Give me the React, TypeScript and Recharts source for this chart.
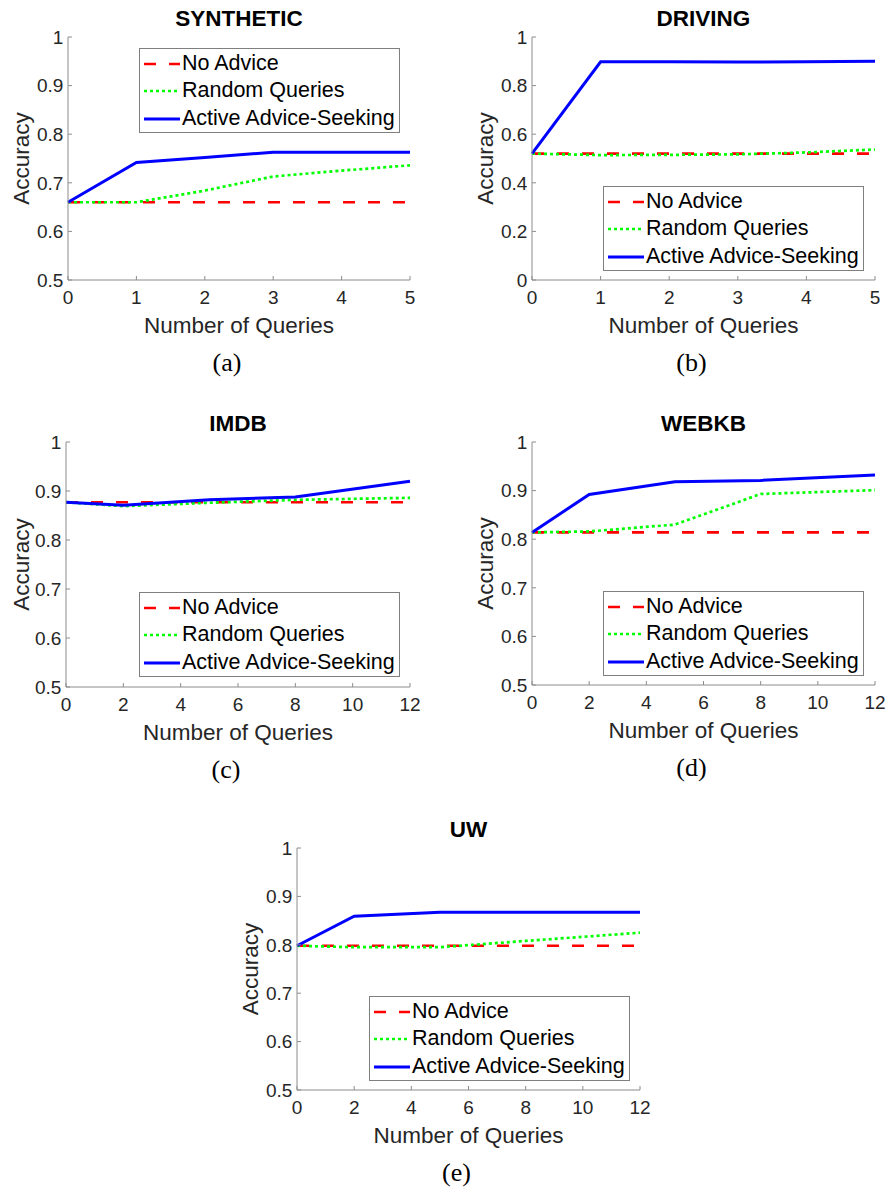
import { LineChart, Line, XAxis, YAxis, Legend, Label } from "recharts";

const FONT = "'Liberation Sans', Arial, Helvetica, sans-serif";
const SERIF = "'Liberation Serif', 'DejaVu Serif', serif";
const AXIS_GREY = "#8c8c8c";
const TEXT_DARK = "#262626";

// number of queries (x) and accuracy of each method, per dataset
const synthQueries = [0, 1, 2, 3, 4, 5];
const synthNoAdvice = [0.66, 0.66, 0.66, 0.66, 0.66, 0.66];
const synthRandom = [0.66, 0.66, 0.684, 0.713, 0.725, 0.736];
const synthActive = [0.66, 0.742, 0.752, 0.763, 0.763, 0.763];

const drivingQueries = [0, 1, 2, 3, 4, 5];
const drivingNoAdvice = [0.52, 0.52, 0.52, 0.52, 0.52, 0.52];
const drivingRandom = [0.52, 0.514, 0.515, 0.517, 0.525, 0.537];
const drivingActive = [0.52, 0.898, 0.898, 0.897, 0.898, 0.9];

const imdbQueries = [0, 2, 5, 8, 12];
const imdbNoAdvice = [0.877, 0.877, 0.877, 0.877, 0.877];
const imdbRandom = [0.877, 0.869, 0.876, 0.882, 0.886];
const imdbActive = [0.877, 0.871, 0.882, 0.888, 0.92];

const webkbQueries = [0, 2, 5, 8, 12];
const webkbNoAdvice = [0.814, 0.814, 0.814, 0.814, 0.814];
const webkbRandom = [0.814, 0.816, 0.83, 0.893, 0.901];
const webkbActive = [0.814, 0.892, 0.918, 0.921, 0.932];

const uwQueries = [0, 2, 5, 8, 12];
const uwNoAdvice = [0.798, 0.798, 0.798, 0.798, 0.798];
const uwRandom = [0.798, 0.795, 0.795, 0.808, 0.825];
const uwActive = [0.798, 0.859, 0.867, 0.867, 0.867];

const queryTicks5 = [0, 1, 2, 3, 4, 5];
const queryTicks12 = [0, 2, 4, 6, 8, 10, 12];
const accTicks = [0.5, 0.6, 0.7, 0.8, 0.9, 1];
const drivingAccTicks = [0, 0.2, 0.4, 0.6, 0.8, 1];

const methodNames = ["No Advice", "Random Queries", "Active Advice-Seeking"];

const SERIES = [
  { key: "noAdvice", name: methodNames[0], color: "#ff0000", dash: "12 13", width: 2.7 },
  { key: "random", name: methodNames[1], color: "#00ff00", dash: "3 3", width: 2.7 },
  { key: "active", name: methodNames[2], color: "#0000ff", dash: undefined, width: 3 },
];

// chart frame around each plot box
const Y_AXIS_W = 70;
const TOP_M = 40;
const RIGHT_M = 25;
const X_AXIS_H = 100;
const TITLE_SIZE = 22.5;

type Box = { l: number; t: number; r: number; b: number };

interface PanelProps {
  title: string;
  caption: string;
  queries: number[];
  noAdvice: number[];
  random: number[];
  active: number[];
  xTicks: number[];
  yTicks: number[];
  plot: Box;
  legend: { l: number; t: number };
  yLabelX: number;
}

function LegendBox(props: any) {
  const items = [...(props.payload ?? [])].sort(
    (a: any, b: any) =>
      SERIES.findIndex((s) => s.key === a.dataKey) - SERIES.findIndex((s) => s.key === b.dataKey)
  );
  return (
    <div
      style={{
        width: 261,
        height: 85,
        boxSizing: "border-box",
        border: "1px solid #7f7f7f",
        background: "#fff",
        paddingTop: 0.75,
      }}
    >
      {items.map((entry: any) => {
        const s = SERIES.find((x) => x.key === entry.dataKey)!;
        return (
          <div key={s.key} style={{ height: 27.5, display: "flex", alignItems: "center" }}>
            <svg width={36} height={8} style={{ marginLeft: 4, marginRight: 2, flex: "none" }}>
              <line
                x1={0}
                y1={4}
                x2={36}
                y2={4}
                stroke={s.color}
                strokeWidth={s.width}
                strokeDasharray={s.dash}
              />
            </svg>
            <span
              style={{
                fontFamily: FONT,
                fontSize: 21.5,
                color: "#000",
                lineHeight: "27.5px",
                whiteSpace: "nowrap",
              }}
            >
              {entry.value}
            </span>
          </div>
        );
      })}
    </div>
  );
}

function Panel(p: PanelProps) {
  const chartLeft = p.plot.l - Y_AXIS_W;
  const chartTop = p.plot.t - TOP_M;
  const width = p.plot.r - p.plot.l + Y_AXIS_W + RIGHT_M;
  const height = p.plot.b - p.plot.t + TOP_M + X_AXIS_H;
  const data = p.queries.map((q, i) => ({
    q,
    noAdvice: p.noAdvice[i],
    random: p.random[i],
    active: p.active[i],
  }));
  const xMax = p.xTicks[p.xTicks.length - 1];
  const yDomain = [p.yTicks[0], p.yTicks[p.yTicks.length - 1]];
  const tickStyle = { fill: TEXT_DARK, fontSize: 19, fontFamily: FONT };
  const line = { stroke: AXIS_GREY, strokeWidth: 1 };
  // title baseline sits 10px above the plot box
  const titleTop = p.plot.t - 10 - 0.847 * TITLE_SIZE;

  return (
    <>
      <div
        style={{
          position: "absolute",
          left: p.plot.l,
          width: p.plot.r - p.plot.l,
          top: titleTop,
          textAlign: "center",
          fontFamily: FONT,
          fontWeight: "bold",
          fontSize: TITLE_SIZE,
          lineHeight: `${TITLE_SIZE}px`,
          color: "#000",
          whiteSpace: "nowrap",
        }}
      >
        {p.title}
      </div>
      <div style={{ position: "absolute", left: chartLeft, top: chartTop }}>
        <LineChart
          width={width}
          height={height}
          data={data}
          margin={{ top: TOP_M, right: RIGHT_M, bottom: 0, left: 0 }}
        >
          <XAxis
            xAxisId="bottom"
            dataKey="q"
            type="number"
            domain={[0, xMax]}
            ticks={p.xTicks}
            interval={0}
            height={X_AXIS_H}
            tick={tickStyle}
            tickSize={-4}
            tickMargin={14.5}
            axisLine={line}
            tickLine={line}
          >
            <Label
              value="Number of Queries"
              position="insideBottom"
              offset={X_AXIS_H - 53}
              fill={TEXT_DARK}
              fontSize={22.5}
              fontFamily={FONT}
            />
            <Label
              value={p.caption}
              position="insideBottom"
              offset={X_AXIS_H - 91}
              dx={-12}
              fill="#000"
              fontSize={26}
              fontFamily={SERIF}
            />
          </XAxis>
          <XAxis
            xAxisId="top"
            orientation="top"
            type="number"
            domain={[0, xMax]}
            ticks={p.xTicks}
            interval={0}
            height={0}
            tickFormatter={() => ""}
            tickSize={-4}
            axisLine={line}
            tickLine={line}
          />
          <YAxis
            yAxisId="left"
            type="number"
            domain={yDomain}
            ticks={p.yTicks}
            interval={0}
            width={Y_AXIS_W}
            tick={tickStyle}
            tickFormatter={(v: number) => String(v)}
            tickSize={-4}
            tickMargin={8.7}
            axisLine={line}
            tickLine={line}
          >
            <Label
              value="Accuracy"
              angle={-90}
              position="insideLeft"
              offset={p.yLabelX - chartLeft}
              style={{ textAnchor: "middle" }}
              fill={TEXT_DARK}
              fontSize={22.5}
              fontFamily={FONT}
            />
          </YAxis>
          <YAxis
            yAxisId="right"
            orientation="right"
            type="number"
            domain={yDomain}
            ticks={p.yTicks}
            interval={0}
            width={0}
            tickFormatter={() => ""}
            tickSize={-4}
            axisLine={line}
            tickLine={line}
          />
          <Legend
            layout="vertical"
            align="center"
            verticalAlign="middle"
            content={LegendBox}
            wrapperStyle={{
              position: "absolute",
              left: p.legend.l - chartLeft,
              top: p.legend.t - chartTop,
              width: 261,
              height: 85,
            }}
          />
          {SERIES.map((s) => (
            <Line
              key={s.key}
              xAxisId="bottom"
              yAxisId="left"
              type="linear"
              dataKey={s.key}
              name={s.name}
              stroke={s.color}
              strokeWidth={s.width}
              strokeDasharray={s.dash}
              dot={false}
              activeDot={false}
              isAnimationActive={false}
            />
          ))}
        </LineChart>
      </div>
    </>
  );
}

export default function App() {
  return (
    <div
      style={{
        position: "absolute",
        left: 0,
        top: 0,
        width: 889,
        height: 1191,
        background: "#fff",
        overflow: "hidden",
      }}
    >
      <Panel
        title="SYNTHETIC"
        caption="(a)"
        queries={synthQueries}
        noAdvice={synthNoAdvice}
        random={synthRandom}
        active={synthActive}
        xTicks={queryTicks5}
        yTicks={accTicks}
        plot={{ l: 68, t: 37, r: 410, b: 280 }}
        legend={{ l: 139, t: 48 }}
        yLabelX={21}
      />
      <Panel
        title="DRIVING"
        caption="(b)"
        queries={drivingQueries}
        noAdvice={drivingNoAdvice}
        random={drivingRandom}
        active={drivingActive}
        xTicks={queryTicks5}
        yTicks={drivingAccTicks}
        plot={{ l: 532, t: 37, r: 875, b: 280 }}
        legend={{ l: 603, t: 186 }}
        yLabelX={485.5}
      />
      <Panel
        title="IMDB"
        caption="(c)"
        queries={imdbQueries}
        noAdvice={imdbNoAdvice}
        random={imdbRandom}
        active={imdbActive}
        xTicks={queryTicks12}
        yTicks={accTicks}
        plot={{ l: 66, t: 442, r: 410, b: 687 }}
        legend={{ l: 139, t: 592 }}
        yLabelX={21}
      />
      <Panel
        title="WEBKB"
        caption="(d)"
        queries={webkbQueries}
        noAdvice={webkbNoAdvice}
        random={webkbRandom}
        active={webkbActive}
        xTicks={queryTicks12}
        yTicks={accTicks}
        plot={{ l: 532, t: 442, r: 875, b: 685 }}
        legend={{ l: 603, t: 591 }}
        yLabelX={485.5}
      />
      <Panel
        title="UW"
        caption="(e)"
        queries={uwQueries}
        noAdvice={uwNoAdvice}
        random={uwRandom}
        active={uwActive}
        xTicks={queryTicks12}
        yTicks={accTicks}
        plot={{ l: 297, t: 848, r: 640, b: 1090 }}
        legend={{ l: 369, t: 996 }}
        yLabelX={250.5}
      />
    </div>
  );
}
